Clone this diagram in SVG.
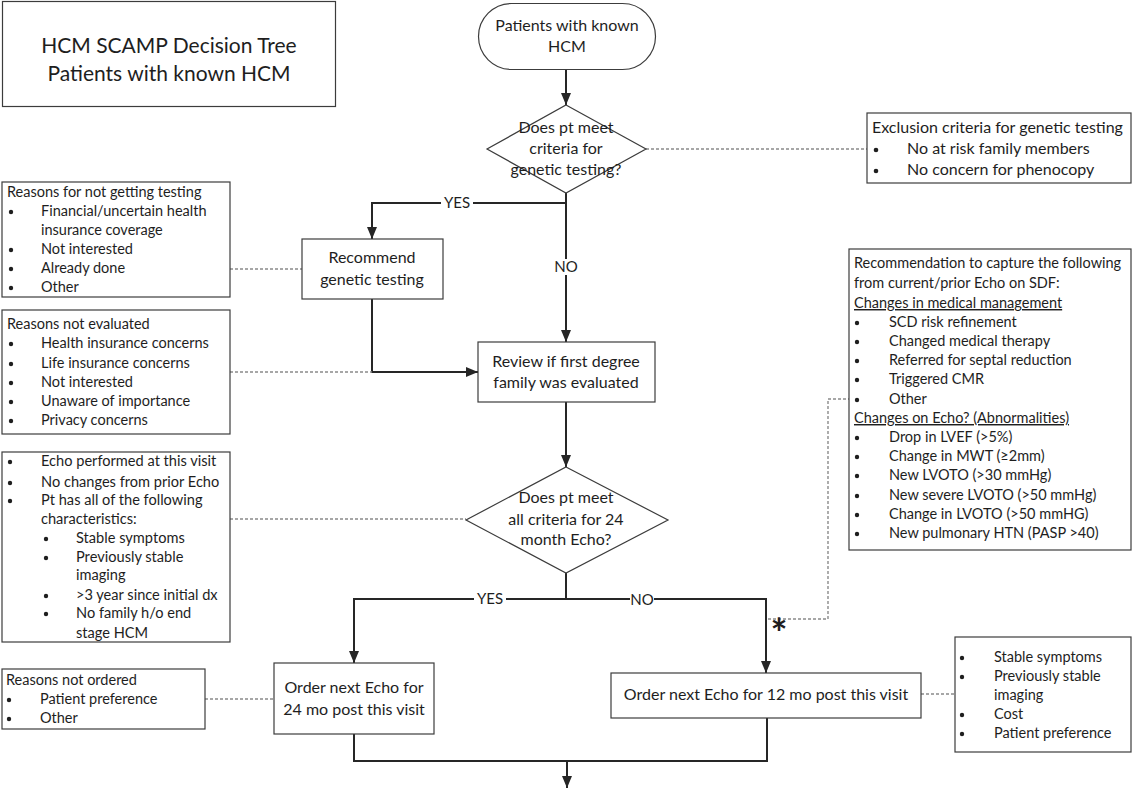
<svg xmlns="http://www.w3.org/2000/svg" width="1133" height="793" viewBox="0 0 1133 793">
<defs>
<style>
text{font-family:Lato,"Liberation Sans",sans-serif;fill:#1e1e1e}
.box{fill:#fff;stroke:#3c3c3c;stroke-width:1.2}
.node{font-size:16px;text-anchor:middle}
.side{font-size:14.5px}
.echo{font-size:14.6px}
.conn{fill:none;stroke:#262626;stroke-width:2}
.dash{fill:none;stroke:#8a8a8a;stroke-width:1.4;stroke-dasharray:3 2}
.lbl{font-size:15px;text-anchor:middle}
.bg{fill:#fff}
</style>
<marker id="arr" viewBox="0 0 12 10" refX="12" refY="5" markerWidth="12" markerHeight="10" markerUnits="userSpaceOnUse" orient="auto">
<path d="M0,0 L12,5 L0,10 z" fill="#262626"/>
</marker>
</defs>
<rect width="1133" height="793" fill="#fff"/>

<g id="title">
<rect class="box" x="2.5" y="1.5" width="333" height="105"/>
<text x="169" y="53" style="font-size:21px;text-anchor:middle">HCM SCAMP Decision Tree</text>
<text x="169" y="81" style="font-size:21px;text-anchor:middle">Patients with known HCM</text>
</g>

<g id="connectors">
<line class="conn" x1="566" y1="69" x2="566" y2="105" marker-end="url(#arr)"/>
<line class="conn" x1="566" y1="193" x2="566" y2="342" marker-end="url(#arr)"/>
<polyline class="conn" points="566,203 372,203 372,239" marker-end="url(#arr)"/>
<polyline class="conn" points="372,299 372,372 478,372" marker-end="url(#arr)"/>
<line class="conn" x1="566" y1="402" x2="566" y2="467" marker-end="url(#arr)"/>
<line class="conn" x1="566" y1="573" x2="566" y2="599"/>
<polyline class="conn" points="766,599 354,599 354,663" marker-end="url(#arr)"/>
<line class="conn" x1="766" y1="598" x2="766" y2="673" marker-end="url(#arr)"/>
<polyline class="conn" points="354,734 354,761 767,761 767,718"/>
<line class="conn" x1="567" y1="761" x2="567" y2="788" marker-end="url(#arr)"/>
<line class="dash" x1="646" y1="149" x2="867" y2="149"/>
<line class="dash" x1="230" y1="269" x2="302" y2="269"/>
<line class="dash" x1="230" y1="372" x2="372" y2="372"/>
<line class="dash" x1="230" y1="519" x2="466" y2="519"/>
<polyline class="dash" points="768,619 828,619 828,399 849,399"/>
<line class="dash" x1="205" y1="699" x2="274" y2="699"/>
<line class="dash" x1="921" y1="694" x2="955" y2="694"/>
<rect class="bg" x="441" y="195" width="32" height="16"/>
<text class="lbl" x="457" y="208">YES</text>
<rect class="bg" x="554" y="259" width="24" height="16"/>
<text class="lbl" x="566" y="272">NO</text>
<rect class="bg" x="474" y="591" width="32" height="16"/>
<text class="lbl" x="490" y="604">YES</text>
<rect class="bg" x="630" y="591" width="24" height="16"/>
<text class="lbl" x="642" y="605">NO</text>
<text x="779" y="648" style="font-size:40px;text-anchor:middle;font-weight:bold">*</text>
</g>

<g id="start">
<rect class="box" x="478.5" y="3.5" width="177" height="66" rx="33"/>
<text class="node" x="567" y="31">Patients with known</text>
<text class="node" x="567" y="52">HCM</text>
</g>

<g id="q-genetic">
<polygon class="box" points="566,105 646,149 566,193 487,149"/>
<text class="node" x="566" y="133">Does pt meet</text>
<text class="node" x="566" y="154">criteria for</text>
<text class="node" x="566" y="175">genetic testing?</text>
</g>

<g id="exclusion">
<rect class="box" x="867" y="113" width="264" height="70"/>
<text x="872" y="133" style="font-size:16px">Exclusion criteria for genetic testing</text>
<circle cx="876" cy="150" r="2.3" fill="#1e1e1e"/>
<text x="907" y="154" style="font-size:16px">No at risk family members</text>
<circle cx="876" cy="171" r="2.3" fill="#1e1e1e"/>
<text x="907" y="175" style="font-size:16px">No concern for phenocopy</text>
</g>

<g id="recommend">
<rect class="box" x="302" y="239" width="141" height="60"/>
<text class="node" x="372" y="263">Recommend</text>
<text class="node" x="372" y="285">genetic testing</text>
</g>

<g id="reasons-testing">
<rect class="box" x="2" y="182" width="228" height="115"/>
<text class="side" x="7" y="197">Reasons for not getting testing</text>
<g fill="#1e1e1e"><circle cx="11" cy="212" r="2.2"/><circle cx="11" cy="250" r="2.2"/><circle cx="11" cy="269" r="2.2"/><circle cx="11" cy="288" r="2.2"/></g>
<text class="side" x="41" y="216">Financial/uncertain health</text>
<text class="side" x="41" y="235">insurance coverage</text>
<text class="side" x="41" y="254">Not interested</text>
<text class="side" x="41" y="273">Already done</text>
<text class="side" x="41" y="292">Other</text>
</g>

<g id="reasons-evaluated">
<rect class="box" x="2" y="310" width="228" height="124"/>
<text class="side" x="7" y="329">Reasons not evaluated</text>
<g fill="#1e1e1e"><circle cx="11" cy="344" r="2.2"/><circle cx="11" cy="364" r="2.2"/><circle cx="11" cy="383" r="2.2"/><circle cx="11" cy="402" r="2.2"/><circle cx="11" cy="421" r="2.2"/></g>
<text class="side" x="41" y="348">Health insurance concerns</text>
<text class="side" x="41" y="368">Life insurance concerns</text>
<text class="side" x="41" y="387">Not interested</text>
<text class="side" x="41" y="406">Unaware of importance</text>
<text class="side" x="41" y="425">Privacy concerns</text>
</g>

<g id="review">
<rect class="box" x="478" y="342" width="177" height="60"/>
<text class="node" x="566" y="367">Review if first degree</text>
<text class="node" x="566" y="388">family was evaluated</text>
</g>

<g id="q-echo">
<polygon class="box" points="566,467 668,520 566,573 466,520"/>
<text class="node" x="566" y="503">Does pt meet</text>
<text class="node" x="566" y="525">all criteria for 24</text>
<text class="node" x="566" y="545">month Echo?</text>
</g>

<g id="echo-criteria">
<rect class="box" x="2" y="452" width="228" height="190"/>
<g fill="#1e1e1e"><circle cx="10" cy="462" r="2.2"/><circle cx="10" cy="483" r="2.2"/><circle cx="10" cy="501" r="2.2"/><circle cx="46" cy="539" r="2.2"/><circle cx="46" cy="558" r="2.2"/><circle cx="46" cy="596" r="2.2"/><circle cx="46" cy="614" r="2.2"/></g>
<text class="echo" x="41" y="466">Echo performed at this visit</text>
<text class="echo" x="41" y="487">No changes from prior Echo</text>
<text class="echo" x="41" y="505">Pt has all of the following</text>
<text class="echo" x="41" y="524">characteristics:</text>
<text class="echo" x="76" y="543">Stable symptoms</text>
<text class="echo" x="76" y="562">Previously stable</text>
<text class="echo" x="76" y="580">imaging</text>
<text class="echo" x="76" y="600">&gt;3 year since initial dx</text>
<text class="echo" x="76" y="618">No family h/o end</text>
<text class="echo" x="76" y="638">stage HCM</text>
</g>

<g id="rec-capture">
<rect class="box" x="849" y="249" width="282" height="301"/>
<text class="side" x="854" y="268">Recommendation to capture the following</text>
<text class="side" x="854" y="288">from current/prior Echo on SDF:</text>
<text class="side" x="854" y="308" text-decoration="underline">Changes in medical management</text>
<g fill="#1e1e1e"><circle cx="857" cy="323" r="2.2"/><circle cx="857" cy="342" r="2.2"/><circle cx="857" cy="361" r="2.2"/><circle cx="857" cy="380" r="2.2"/><circle cx="857" cy="400" r="2.2"/><circle cx="857" cy="438" r="2.2"/><circle cx="857" cy="457" r="2.2"/><circle cx="857" cy="476" r="2.2"/><circle cx="857" cy="496" r="2.2"/><circle cx="857" cy="515" r="2.2"/><circle cx="857" cy="534" r="2.2"/></g>
<text class="side" x="889" y="327">SCD risk refinement</text>
<text class="side" x="889" y="346">Changed medical therapy</text>
<text class="side" x="889" y="365">Referred for septal reduction</text>
<text class="side" x="889" y="384">Triggered CMR</text>
<text class="side" x="889" y="404">Other</text>
<text class="side" x="854" y="423" text-decoration="underline">Changes on Echo? (Abnormalities)</text>
<text class="side" x="889" y="442">Drop in LVEF (&gt;5%)</text>
<text class="side" x="889" y="461">Change in MWT (≥2mm)</text>
<text class="side" x="889" y="480">New LVOTO (&gt;30 mmHg)</text>
<text class="side" x="889" y="500">New severe LVOTO (&gt;50 mmHg)</text>
<text class="side" x="889" y="519">Change in LVOTO (&gt;50 mmHG)</text>
<text class="side" x="889" y="538">New pulmonary HTN (PASP &gt;40)</text>
</g>

<g id="order24">
<rect class="box" x="274" y="663" width="160" height="71"/>
<text class="node" x="354" y="693">Order next Echo for</text>
<text class="node" x="354" y="715">24 mo post this visit</text>
</g>

<g id="reasons-ordered">
<rect class="box" x="2" y="669" width="203" height="60"/>
<text class="side" x="6" y="685">Reasons not ordered</text>
<g fill="#1e1e1e"><circle cx="9" cy="700" r="2.2"/><circle cx="9" cy="719" r="2.2"/></g>
<text class="side" x="40" y="704">Patient preference</text>
<text class="side" x="40" y="723">Other</text>
</g>

<g id="order12">
<rect class="box" x="611" y="673" width="310" height="45"/>
<text class="node" x="766" y="700">Order next Echo for 12 mo post this visit</text>
</g>

<g id="order12-notes">
<rect class="box" x="955" y="637" width="176" height="115"/>
<g fill="#1e1e1e"><circle cx="962" cy="658" r="2.2"/><circle cx="962" cy="677" r="2.2"/><circle cx="962" cy="715" r="2.2"/><circle cx="962" cy="734" r="2.2"/></g>
<text class="side" x="994" y="662">Stable symptoms</text>
<text class="side" x="994" y="681">Previously stable</text>
<text class="side" x="994" y="700">imaging</text>
<text class="side" x="994" y="719">Cost</text>
<text class="side" x="994" y="738">Patient preference</text>
</g>
</svg>
